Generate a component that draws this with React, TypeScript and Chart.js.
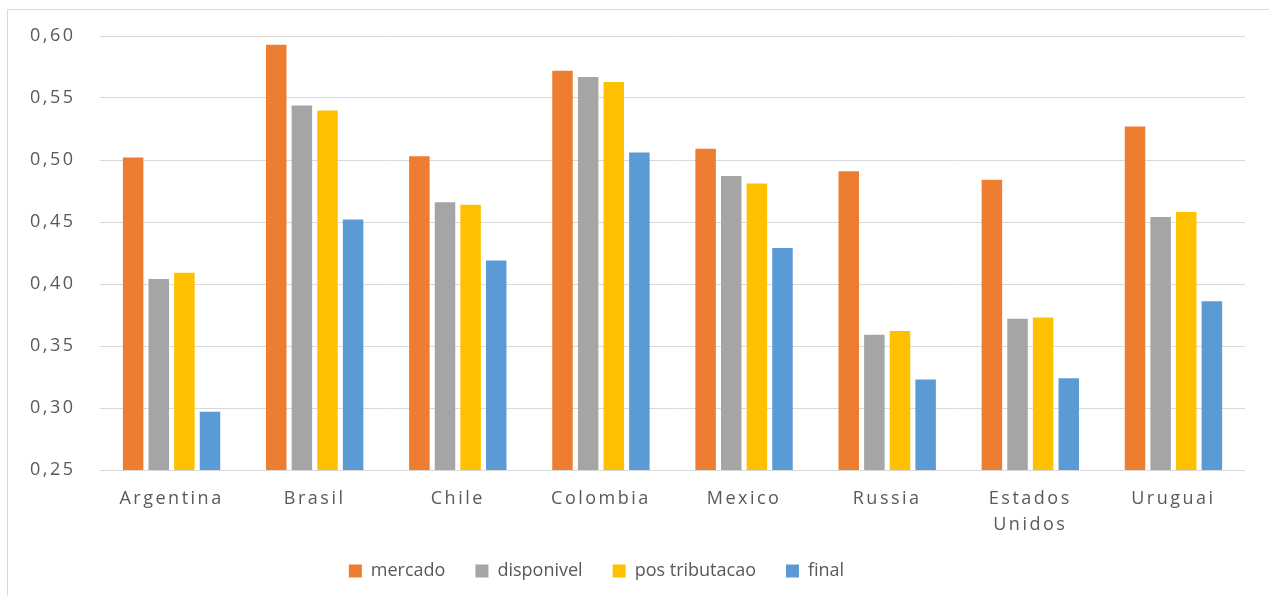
import { useEffect, useRef } from "react";
import { Chart, registerables } from "chart.js";

Chart.register(...registerables);

const categories: (string | string[])[] = [
  "Argentina",
  "Brasil",
  "Chile",
  "Colombia",
  "Mexico",
  "Russia",
  ["Estados", "Unidos"],
  "Uruguai",
];
const mercado = [0.502, 0.593, 0.503, 0.572, 0.509, 0.491, 0.484, 0.527];
const disponivel = [0.404, 0.544, 0.466, 0.567, 0.487, 0.359, 0.372, 0.454];
const posTributacao = [0.409, 0.54, 0.464, 0.563, 0.481, 0.362, 0.373, 0.458];
const final = [0.297, 0.452, 0.419, 0.506, 0.429, 0.323, 0.324, 0.386];
const seriesNames = ["mercado", "disponivel", "pos tributacao", "final"];
const seriesColors = ["#ED7D31", "#A5A5A5", "#FFC000", "#5B9BD5"];
const yMin = 0.25;
const yMax = 0.6;
const yStep = 0.05;

const FONT = "'Open Sans', 'Liberation Sans', sans-serif";
const TEXT = "#595959";
const GRID = "#D9D9D9";

const spacingPlugin = {
  id: "letterSpacing",
  beforeUpdate(chart: any) {
    chart.ctx.letterSpacing = "0px";
  },
  afterLayout(chart: any) {
    // let multi-line category labels extend below the axis box
    chart.scales.x.bottom += 30;
    // shift the legend slightly left, as in the original
    if (chart.legend) {
      chart.legend.left -= 26;
      chart.legend.right -= 26;
    }
  },
  beforeDraw(chart: any) {
    chart.ctx.letterSpacing = "0px";
  },
  afterDatasetsDraw(chart: any) {
    chart.ctx.letterSpacing = "2.5px";
  },
  afterDraw(chart: any) {
    chart.ctx.letterSpacing = "0px";
  },
};

export default function App() {
  const ref = useRef<HTMLCanvasElement | null>(null);

  useEffect(() => {
    if (!ref.current) return;
    const values = [mercado, disponivel, posTributacao, final];
    const chart = new Chart(ref.current, {
      type: "bar",
      data: {
        labels: categories,
        datasets: values.map((v, i) => ({
          label: seriesNames[i],
          data: v,
          backgroundColor: seriesColors[i],
          borderWidth: 0,
          categoryPercentage: 0.716,
          barPercentage: 0.8,
        })),
      },
      options: {
        responsive: false,
        animation: false,
        devicePixelRatio: 1,
        layout: { padding: { left: 0, top: 36, right: 24, bottom: 6 } },
        plugins: {
          tooltip: { enabled: false },
          legend: {
            position: "bottom",
            labels: {
              boxWidth: 13,
              boxHeight: 13,
              padding: 30,
              color: TEXT,
              font: { family: FONT, size: 18 },
            },
          },
        },
        scales: {
          x: {
            grid: { display: false },
            border: { display: false },
            ticks: {
              color: TEXT,
              font: { family: FONT, size: 18, lineHeight: 1.45 },
              padding: 8,
              maxRotation: 0,
              autoSkip: false,
              z: 1,
            },
            afterFit(scale: any) {
              scale.height = 62;
            },
          },
          y: {
            min: yMin,
            max: yMax,
            border: { display: false },
            grid: { color: GRID, drawTicks: false, lineWidth: 1 },
            ticks: {
              stepSize: yStep,
              color: TEXT,
              padding: 24.5,
              font: { family: FONT, size: 18 },
              z: 1,
              callback: (v: any) => Number(v).toFixed(2).replace(".", ","),
            },
            afterFit(scale: any) {
              scale.width = 100;
            },
          },
        },
      },
      plugins: [spacingPlugin],
    } as any);
    return () => chart.destroy();
  }, []);

  return (
    <div
      style={{
        position: "absolute",
        left: 0,
        top: 0,
        width: 1269,
        height: 596,
        overflow: "hidden",
        background: "#fff",
      }}
    >
      <div
        style={{
          position: "absolute",
          left: 7,
          top: 9,
          width: 1300,
          height: 640,
          border: "1px solid #D9D9D9",
          boxSizing: "border-box",
        }}
      />
      <canvas
        ref={ref}
        width={1269}
        height={596}
        style={{ position: "absolute", left: 0, top: 0 }}
      />
    </div>
  );
}
